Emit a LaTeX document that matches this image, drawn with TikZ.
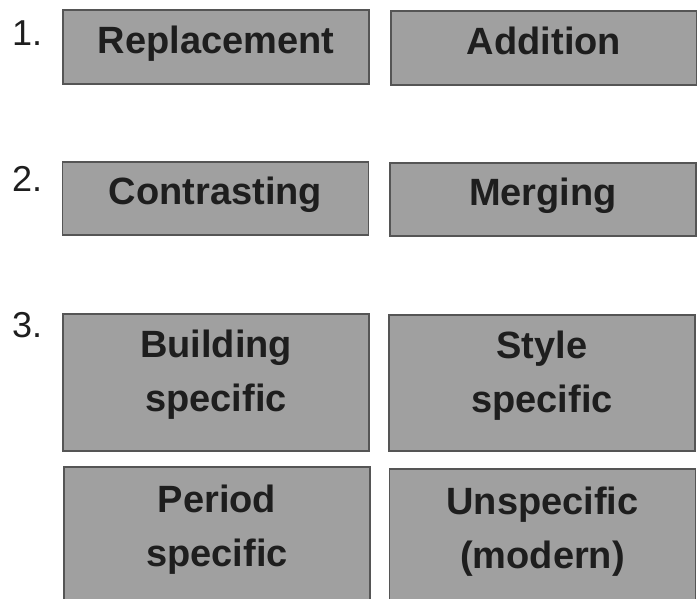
\documentclass[tikz,border=0pt]{standalone}
\usepackage{fontspec}
\setmainfont{Liberation Sans}
\definecolor{boxgray}{RGB}{160,160,160}
\definecolor{edgegray}{RGB}{85,85,85}
\definecolor{txtdark}{RGB}{30,30,30}
\usetikzlibrary{positioning}

\begin{document}
\begin{tikzpicture}[x=1pt, y=-1pt,
    catbox/.style={draw=edgegray, line width=1.5pt, fill=boxgray, text=txtdark,
      font=\fontsize{38}{54}\selectfont\bfseries, align=center,
      minimum width=306pt, inner sep=0pt},
    oneline/.style={catbox, text height=27.5pt, text depth=14.5pt},
    twoline/.style={catbox, text depth=23.5pt},
    stepnum/.style={anchor=base west, inner sep=0pt, text=txtdark,
      font=\fontsize{36}{40}\selectfont}]
    \useasboundingbox (0,0) rectangle (697,599);

    % Row 1: Replacement / Addition
    \node[stepnum] (n1) at (12,46) {1.};
    \node[oneline, minimum height=74pt] (repl) at (216,47)   {Replacement};
    \node[oneline, minimum height=74pt] (addi) at (544,48)   {Addition};

    % Row 2: Contrasting / Merging
    \node[stepnum] (n2) at (12,192) {2.};
    \node[oneline, minimum height=73pt] (contr) at (215.5,198.5) {Contrasting};
    \node[oneline, minimum height=73pt] (merg)  at (543,199.5)   {Merging};

    % Row 3: four kinds
    \node[stepnum] (n3) at (12,337) {3.};
    \node[twoline, minimum height=137pt] (bldg)  at (216,382.5) {Building\\specific};
    \node[twoline, minimum height=136pt] (style) at (542,383)   {Style\\specific};
    \node[twoline, minimum height=140pt] (perd)  at (217,537)   {Period\\specific};
    \node[twoline, minimum height=140pt] (unsp)  at (542.5,539) {Unspecific\\(modern)};
\end{tikzpicture}
\end{document}
